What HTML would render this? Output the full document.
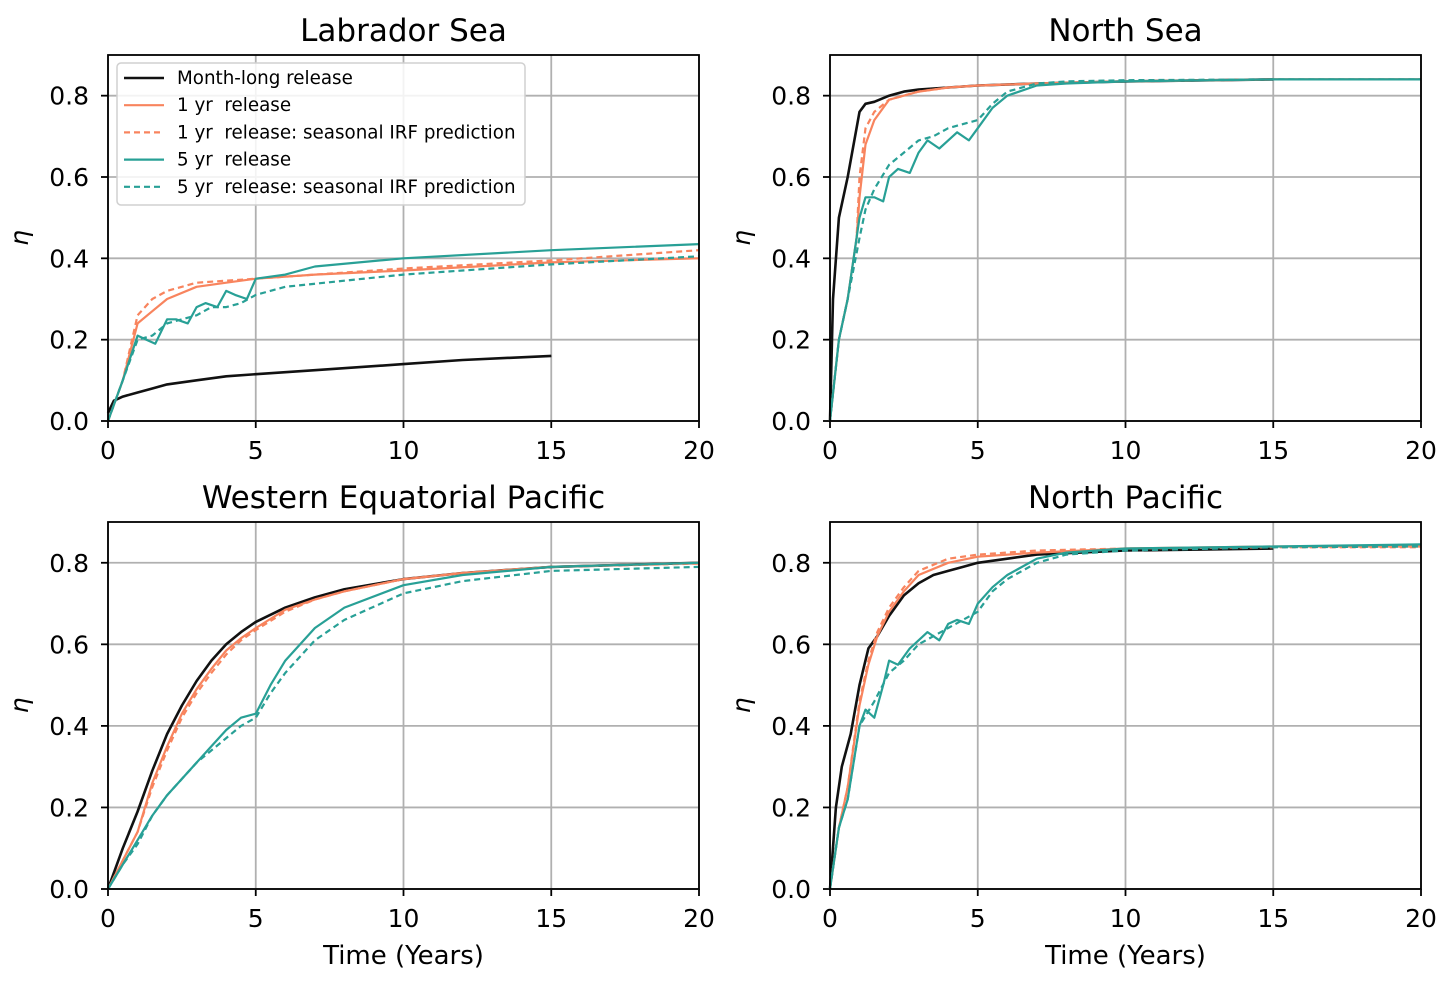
<!DOCTYPE html>
<html><head><meta charset="utf-8"><style>
body{margin:0;background:#fff;}
svg{display:block;font-family:"DejaVu Sans","Liberation Sans",sans-serif;}
text{white-space:pre;}
</style></head><body>
<svg id="fig" width="1451" height="983" viewBox="0 0 1451 983" xmlns="http://www.w3.org/2000/svg"></svg>
<script>
const xTicks=[0,5,10,15,20];
const yTicks=[0.0,0.2,0.4,0.6,0.8];
const yTickLabels=["0.0","0.2","0.4","0.6","0.8"];
const panelTitles=["Labrador Sea","North Sea","Western Equatorial Pacific","North Pacific"];
const seriesNames=["Month-long release","1 yr  release","1 yr  release: seasonal IRF prediction","5 yr  release","5 yr  release: seasonal IRF prediction"];

// Labrador Sea
const lab_month_t=[0,0.2,0.5,1,1.5,2,3,4,5,7,10,12,15];
const lab_month_v=[0.02,0.05,0.06,0.07,0.08,0.09,0.10,0.11,0.115,0.125,0.14,0.15,0.16];
const lab_1yr_t=[0,0.5,1,1.5,2,3,4,5,7,10,15,20];
const lab_1yr_v=[0,0.1,0.24,0.27,0.3,0.33,0.34,0.35,0.36,0.37,0.39,0.40];
const lab_1yrp_t=[0,0.5,1,1.5,2,3,4,5,7,10,15,20];
const lab_1yrp_v=[0,0.1,0.26,0.3,0.32,0.34,0.345,0.35,0.36,0.375,0.395,0.42];
const lab_5yr_t=[0,0.5,1,1.3,1.6,2,2.3,2.7,3,3.3,3.7,4,4.3,4.7,5,6,7,10,15,20];
const lab_5yr_v=[0,0.1,0.21,0.2,0.19,0.25,0.25,0.24,0.28,0.29,0.28,0.32,0.31,0.30,0.35,0.36,0.38,0.40,0.42,0.435];
const lab_5yrp_t=[0,0.5,1,1.5,2,2.5,3,3.5,4,4.5,5,6,8,10,15,20];
const lab_5yrp_v=[0,0.1,0.2,0.21,0.24,0.25,0.26,0.28,0.28,0.29,0.31,0.33,0.345,0.36,0.385,0.405];
// North Sea
const ns_month_t=[0,0.1,0.3,0.6,1,1.2,1.5,2,2.5,3,4,5,7,10,15];
const ns_month_v=[0,0.3,0.5,0.6,0.76,0.78,0.785,0.8,0.81,0.815,0.82,0.825,0.83,0.835,0.84];
const ns_1yr_t=[0,0.3,0.6,0.9,1,1.2,1.5,2,3,4,5,7,10,15,20];
const ns_1yr_v=[0,0.2,0.3,0.45,0.55,0.68,0.74,0.79,0.81,0.82,0.825,0.83,0.835,0.84,0.84];
const ns_1yrp_t=[0,0.3,0.6,0.9,1,1.2,1.5,2,3,4,5,7,10,15,20];
const ns_1yrp_v=[0,0.2,0.3,0.45,0.6,0.72,0.76,0.79,0.81,0.82,0.825,0.83,0.835,0.84,0.84];
const ns_5yr_t=[0,0.3,0.6,1,1.2,1.5,1.8,2,2.3,2.7,3,3.3,3.7,4,4.3,4.7,5,5.5,6,7,8,10,15,20];
const ns_5yr_v=[0,0.2,0.3,0.5,0.55,0.55,0.54,0.6,0.62,0.61,0.66,0.69,0.67,0.69,0.71,0.69,0.72,0.77,0.8,0.825,0.83,0.835,0.84,0.84];
const ns_5yrp_t=[0,0.3,0.6,1,1.2,1.5,2,2.5,3,3.5,4,4.5,5,5.5,6,7,8,10,15,20];
const ns_5yrp_v=[0,0.2,0.3,0.45,0.52,0.57,0.63,0.66,0.69,0.7,0.72,0.73,0.74,0.78,0.81,0.83,0.835,0.838,0.84,0.84];
// Western Equatorial Pacific
const wep_month_t=[0,0.5,1,1.5,2,2.5,3,3.5,4,4.5,5,6,7,8,10,12,15,20];
const wep_month_v=[0,0.1,0.19,0.29,0.38,0.45,0.51,0.56,0.6,0.63,0.655,0.69,0.715,0.735,0.76,0.775,0.79,0.8];
const wep_1yr_t=[0,1,1.5,2,2.5,3,3.5,4,4.5,5,6,7,8,10,12,15,20];
const wep_1yr_v=[0,0.14,0.26,0.35,0.43,0.49,0.54,0.585,0.615,0.64,0.685,0.71,0.73,0.76,0.775,0.79,0.8];
const wep_1yrp_t=[0,1,1.5,2,2.5,3,3.5,4,4.5,5,6,7,8,10,12,15,20];
const wep_1yrp_v=[0,0.14,0.25,0.34,0.42,0.48,0.53,0.575,0.61,0.635,0.68,0.71,0.73,0.76,0.775,0.79,0.798];
const wep_5yr_t=[0,0.5,1,1.5,2,2.5,3,3.5,4,4.5,5,5.5,6,7,8,10,12,15,20];
const wep_5yr_v=[0,0.06,0.12,0.18,0.23,0.27,0.31,0.35,0.39,0.42,0.43,0.5,0.56,0.64,0.69,0.745,0.77,0.79,0.8];
const wep_5yrp_t=[0,0.5,1,1.5,2,2.5,3,3.5,4,4.5,5,5.5,6,7,8,10,12,15,20];
const wep_5yrp_v=[0,0.06,0.11,0.18,0.23,0.27,0.31,0.34,0.37,0.4,0.42,0.48,0.53,0.61,0.66,0.725,0.755,0.78,0.79];
// North Pacific
const np_month_t=[0,0.2,0.4,0.7,1,1.3,1.6,2,2.5,3,3.5,4,4.5,5,6,7,10,15];
const np_month_v=[0,0.2,0.3,0.38,0.5,0.59,0.62,0.67,0.72,0.75,0.77,0.78,0.79,0.8,0.81,0.82,0.83,0.835];
const np_1yr_t=[0,0.3,0.6,1,1.3,1.6,2,2.5,3,4,5,7,10,15,20];
const np_1yr_v=[0,0.15,0.25,0.45,0.55,0.62,0.68,0.73,0.77,0.8,0.815,0.825,0.835,0.84,0.84];
const np_1yrp_t=[0,0.3,0.6,1,1.3,1.6,2,2.5,3,4,5,7,10,15,20];
const np_1yrp_v=[0,0.15,0.25,0.46,0.56,0.63,0.69,0.74,0.78,0.81,0.82,0.83,0.835,0.838,0.838];
const np_5yr_t=[0,0.3,0.6,1,1.2,1.5,1.8,2,2.3,2.7,3,3.3,3.7,4,4.3,4.7,5,5.5,6,7,8,10,15,20];
const np_5yr_v=[0,0.15,0.22,0.4,0.44,0.42,0.5,0.56,0.55,0.59,0.61,0.63,0.61,0.65,0.66,0.65,0.7,0.74,0.77,0.81,0.825,0.835,0.84,0.845];
const np_5yrp_t=[0,0.3,0.6,1,1.5,2,2.5,3,3.5,4,4.5,5,5.5,6,7,8,10,15,20];
const np_5yrp_v=[0,0.15,0.22,0.4,0.46,0.53,0.56,0.6,0.62,0.64,0.66,0.68,0.73,0.76,0.8,0.82,0.83,0.838,0.84];

const colors=["#111111","#f8845e","#f8845e","#28a096","#28a096"];
const dashes=[null,null,"6,4",null,"6,4"];
const panels=[
 {x0:108,x1:699,yb:421,yt:55,title:0,series:[[lab_month_t,lab_month_v],[lab_1yr_t,lab_1yr_v],[lab_1yrp_t,lab_1yrp_v],[lab_5yr_t,lab_5yr_v],[lab_5yrp_t,lab_5yrp_v]]},
 {x0:830,x1:1421,yb:421,yt:55,title:1,series:[[ns_month_t,ns_month_v],[ns_1yr_t,ns_1yr_v],[ns_1yrp_t,ns_1yrp_v],[ns_5yr_t,ns_5yr_v],[ns_5yrp_t,ns_5yrp_v]]},
 {x0:108,x1:699,yb:889,yt:522,title:2,series:[[wep_month_t,wep_month_v],[wep_1yr_t,wep_1yr_v],[wep_1yrp_t,wep_1yrp_v],[wep_5yr_t,wep_5yr_v],[wep_5yrp_t,wep_5yrp_v]]},
 {x0:830,x1:1421,yb:889,yt:522,title:3,series:[[np_month_t,np_month_v],[np_1yr_t,np_1yr_v],[np_1yrp_t,np_1yrp_v],[np_5yr_t,np_5yr_v],[np_5yrp_t,np_5yrp_v]]}
];
const NS="http://www.w3.org/2000/svg";
const svg=document.getElementById('fig');
function mk(tag,attrs,parent,text){const e=document.createElementNS(NS,tag);for(const k in attrs)e.setAttribute(k,attrs[k]);if(text!==undefined)e.textContent=text;(parent||svg).appendChild(e);return e;}
panels.forEach((p,pi)=>{
  const g=mk('g',{});
  
  
  const sx=t=>p.x0+(t/20)*(p.x1-p.x0);
  const sy=v=>p.yb-(v/0.9)*(p.yb-p.yt);
  xTicks.forEach(t=>{
    const l=mk('line',{x1:sx(t),x2:sx(t),y1:p.yt,y2:p.yb,stroke:'#b0b0b0','stroke-width':1.8},g);
    
    
    mk('line',{x1:sx(t),x2:sx(t),y1:p.yb,y2:p.yb+7,stroke:'#000','stroke-width':1.8},g);
    const tx=mk('text',{x:sx(t),y:p.yb+38,'text-anchor':'middle','font-size':25},g,String(t));
    
    
  });
  yTicks.forEach((v,i)=>{
    const l=mk('line',{x1:p.x0,x2:p.x1,y1:sy(v),y2:sy(v),stroke:'#b0b0b0','stroke-width':1.8},g);
    
    
    mk('line',{x1:p.x0-7,x2:p.x0,y1:sy(v),y2:sy(v),stroke:'#000','stroke-width':1.8},g);
    const tx=mk('text',{x:p.x0-19,y:sy(v)+9,'text-anchor':'end','font-size':25},g,yTickLabels[i]);
    
    
  });
  p.series.forEach((s,si)=>{
    const pts=s[0].map((t,i)=>sx(t).toFixed(1)+','+sy(s[1][i]).toFixed(1)).join(' ');
    const a={points:pts,fill:'none',stroke:colors[si],'stroke-width':si===0?2.6:2.2,'stroke-linejoin':'round'};
    if(dashes[si])a['stroke-dasharray']=dashes[si];
    const pl=mk('polyline',a,g);
    
    
  });
  const fr=mk('rect',{x:p.x0,y:p.yt,width:p.x1-p.x0,height:p.yb-p.yt,fill:'none',stroke:'#000','stroke-width':1.8},g);
  
  
  const ti=mk('text',{x:(p.x0+p.x1)/2,y:p.yt-14,'text-anchor':'middle','font-size':31},g,panelTitles[p.title]);
  
  
  const yl=mk('text',{x:0,y:0,'text-anchor':'middle','font-size':25,'font-style':'italic',transform:`translate(${p.x0-80},${(p.yt+p.yb)/2}) rotate(-90)`},g,'η');
  
  
  if(pi>=2){
    const xl=mk('text',{x:(p.x0+p.x1)/2,y:p.yb+75,'text-anchor':'middle','font-size':26},g,'Time (Years)');
    
    
  }
});
// legend
const lg=mk('g',{});


mk('rect',{x:117,y:63,width:408,height:142,rx:4,fill:'#fff','fill-opacity':0.85,stroke:'#d0d0d0','stroke-width':1.5},lg);
seriesNames.forEach((n,i)=>{
  const y=78+i*27.2;
  const a={x1:124,x2:164,y1:y,y2:y,stroke:colors[i],'stroke-width':i===0?2.6:2.2};
  if(dashes[i])a['stroke-dasharray']=dashes[i];
  const e=mk('g',{},lg);
  
  
  mk('line',a,e);
  mk('text',{x:177,y:y+6,'font-size':18.3},e,n);
});
</script>
</body></html>
